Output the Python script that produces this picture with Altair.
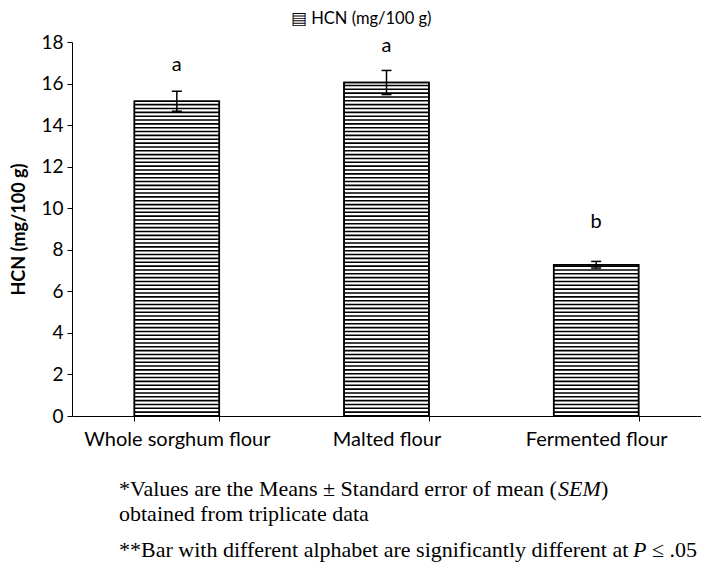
import altair as alt
import pandas as pd

categories = ["Whole sorghum flour", "Malted flour", "Fermented flour"]
hcn = [15.15, 16.05, 7.28]
sem = [0.48, 0.58, 0.16]
letters = ["a", "a", "b"]
letter_y = [16.9, 17.8, 9.35]

y_ticks = [0, 2, 4, 6, 8, 10, 12, 14, 16, 18]
y_title = "HCN (mg/100 g)"
legend_label = "\u25a4 HCN (mg/100 g)"
note1_a = "*Values are the Means \u00b1 Standard error of mean ("
note1_b = "SEM"
note1_c = ")"
note2 = "obtained from triplicate data"
note3_a = "**Bar with different alphabet are significantly different at "
note3_b = "P"
note3_c = "\u2264 .05"

df = pd.DataFrame({
    "cat": categories,
    "hcn": hcn,
    "sem": sem,
    "letter": letters,
    "ly": letter_y,
})

FONT = "Lato"
SERIF = "Liberation Serif"
NOTE_SIZE = 22

x_enc = alt.X(
    "cat:N",
    sort=categories,
    scale=alt.Scale(paddingInner=0.595, paddingOuter=0.2975),
    axis=alt.Axis(
        title=None,
        labelAngle=0,
        labelFontSize=20,
        labelFont=FONT,
        labelColor="black",
        labelPadding=8,
        labelLimit=400,
        domainColor="black",
        tickColor="black",
        tickSize=5,
        tickBand="extent",
    ),
)
y_scale = alt.Scale(domain=[0, 18], nice=False)
y_axis = alt.Axis(
    values=y_ticks,
    grid=False,
    title=y_title,
    titleFont=FONT,
    titleFontSize=18,
    titleFontWeight="bold",
    titleColor="black",
    titlePadding=12,
    labelFont=FONT,
    labelFontSize=19,
    labelColor="black",
    labelPadding=4,
    domainColor="black",
    tickColor="black",
    tickSize=5,
)

base = alt.Chart(df)

bars = base.mark_bar(fill="white", stroke="black", strokeWidth=1.5).encode(
    x=x_enc, y=alt.Y("hcn:Q", scale=y_scale, axis=y_axis)
)

stripes = base.transform_calculate(
    s="sequence(0, datum.hcn, 0.185)"
).transform_flatten(["s"]).mark_tick(
    color="black", thickness=1.6, size=85, opacity=1
).encode(x=alt.X("cat:N", sort=categories), y=alt.Y("s:Q", scale=y_scale))

outline = base.mark_bar(fill=None, stroke="black", strokeWidth=1.5).encode(
    x=alt.X("cat:N", sort=categories), y=alt.Y("hcn:Q", scale=y_scale)
)

err = base.transform_calculate(
    lo="datum.hcn - datum.sem", hi="datum.hcn + datum.sem"
)
rule = err.mark_rule(color="black", strokeWidth=1.5).encode(
    x=alt.X("cat:N", sort=categories),
    y=alt.Y("lo:Q", scale=y_scale),
    y2="hi:Q",
)
cap_hi = err.mark_tick(color="black", thickness=1.5, size=10, opacity=1).encode(
    x=alt.X("cat:N", sort=categories), y=alt.Y("hi:Q", scale=y_scale)
)
cap_lo = err.mark_tick(color="black", thickness=1.5, size=10, opacity=1).encode(
    x=alt.X("cat:N", sort=categories), y=alt.Y("lo:Q", scale=y_scale)
)

letter_text = base.mark_text(
    font=FONT, fontSize=20, color="black", baseline="middle"
).encode(
    x=alt.X("cat:N", sort=categories),
    y=alt.Y("ly:Q", scale=y_scale),
    text="letter:N",
)


def label(txt, x, y, font, size, style="normal", align="left"):
    return alt.Chart(pd.DataFrame({"t": [txt]})).mark_text(
        font=font, fontSize=size, fontStyle=style, color="black",
        align=align, baseline="alphabetic",
    ).encode(text="t:N", x=alt.value(x), y=alt.value(y))


legend = label(legend_label, 219, -18, FONT, 16.5)
n1a = label(note1_a, 47, 454, SERIF, NOTE_SIZE)
n1b = label(note1_b, 486, 454, SERIF, NOTE_SIZE, "italic")
n1c = label(note1_c, 529, 454, SERIF, NOTE_SIZE)
n2 = label(note2, 47, 479, SERIF, NOTE_SIZE)
n3a = label(note3_a, 47, 515, SERIF, NOTE_SIZE)
n3b = label(note3_b, 561, 515, SERIF, NOTE_SIZE, "italic")
n3c = label(note3_c, 580, 515, SERIF, NOTE_SIZE)

chart = alt.layer(
    bars, stripes, outline, rule, cap_hi, cap_lo, letter_text,
    legend, n1a, n1b, n1c, n2, n3a, n3b, n3c,
).properties(
    width=629,
    height=374,
    autosize=alt.AutoSizeParams(type="none"),
    padding={"left": 64, "top": 34, "right": 0, "bottom": 152},
).configure_view(stroke=None)

chart.save("out.html", embed_options={"renderer": "svg", "actions": False})
